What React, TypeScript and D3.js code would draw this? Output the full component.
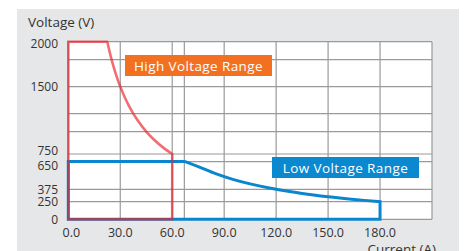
import React from 'react';
import * as d3 from 'd3';

// values
const xTicks = [0, 30, 60, 90, 120, 150, 180];
const xGrid = [0, 30, 60, 67, 90, 120, 150, 180, 210];
const yTicks = [2000, 1500, 750, 650, 375, 250, 0];
const yGrid = [0, 250, 375, 650, 750, 1000, 1200, 1500, 1800, 2000];

// high voltage range: corners + constant power curve
const highCorners: [number, number][] = [[60, 0], [0, 0], [0, 2000], [22.5, 2000]];
const highCurve: [number, number][] = [
  [22.5, 2000], [25, 1800], [27.5, 1636], [30, 1500], [35, 1286], [40, 1125],
  [45, 1000], [50, 900], [55, 818], [60, 750],
];
// low voltage range
const lowCorners: [number, number][] = [[180, 0], [0, 0], [0, 650], [67, 650]];
const lowCurve: [number, number][] = [
  [67, 650], [75, 600], [85, 530], [95, 474], [105, 429], [120, 375],
  [135, 333], [150, 300], [165, 273], [180, 250],
];

const W = 464;
const H = 251;
const font = "'Open Sans', sans-serif";

const x = d3.scaleLinear().domain([0, 210]).range([68.3, 432]);
// axis in the original is hand spaced, so piecewise
const y = d3.scaleLinear()
  .domain([0, 250, 375, 650, 750, 2000])
  .range([219.3, 201.7, 189.3, 161.6, 154, 41.7]);

const pt = (d: [number, number]) => `${x(d[0])},${y(d[1])}`;

const outline = (corners: [number, number][], curve: [number, number][]) => {
  const straight = d3.line<[number, number]>().x(d => x(d[0])).y(d => y(d[1]))(corners) || '';
  const curved = d3.line<[number, number]>()
    .x(d => x(d[0])).y(d => y(d[1]))
    .curve(d3.curveCatmullRom)(curve) || '';
  // swap the curve's moveto for a lineto so the outline stays one path
  return straight + curved.replace(/^M[^A-Za-z]*/, 'L' + pt(curve[0])) + 'Z';
};

const labelNudge = (v: number) => (v === 750 ? -3 : v === 650 ? 4 : v === 2000 ? 2 : 0);

export default function App() {
  const [x0, x1] = x.range();
  const [y0, y1] = [y(0), y(2000)];
  return (
    <svg width={W} height={H} style={{ position: 'absolute', left: 0, top: 0, fontFamily: font }}>
      <rect x={17} y={9} width={442} height={H - 9} fill="#e6e7e8" />
      <rect x={x0} y={y1} width={x1 - x0} height={y0 - y1} fill="#fff" />
      <g stroke="#9a9a9a" strokeWidth={1.2}>
        {yGrid.map(v => (
          <line key={'y' + v} x1={x0} x2={x1} y1={y(v)} y2={y(v)} />
        ))}
        {xGrid.map(v => (
          <line key={'x' + v} x1={x(v)} x2={x(v)} y1={y0} y2={y1} />
        ))}
      </g>
      <text x={28} y={27} fontSize={13.5} fill="#333">Voltage (V)</text>
      <g fontSize={12} fill="#333" textAnchor="end">
        {yTicks.map(v => (
          <text key={v} x={58} y={y(v) + labelNudge(v)} dy="0.36em">{v}</text>
        ))}
      </g>
      <g fontSize={12.5} fill="#333" textAnchor="middle">
        {xTicks.map(v => (
          <text key={v} x={x(v) + (v === 0 ? 3 : 0)} y={237}>{v.toFixed(1)}</text>
        ))}
      </g>
      <text x={436} y={254} fontSize={13.5} fill="#333" textAnchor="end">Current (A)</text>

      <path d={outline(lowCorners, lowCurve)} fill="none" stroke="#0a86ce" strokeWidth={3} />
      <path d={outline(highCorners, highCurve)} fill="none" stroke="#e8232b" strokeOpacity={0.66} strokeWidth={2.6} />

      <rect x={125} y={55} width={147} height={21} fill="#f37021" />
      <text x={198.5} y={70.5} fontSize={13.5} letterSpacing={0.4} fill="#fff" textAnchor="middle">High Voltage Range</text>
      <rect x={272} y={157} width={147} height={21} fill="#0a88d0" />
      <text x={345.5} y={172.5} fontSize={13.5} letterSpacing={0.4} fill="#fff" textAnchor="middle">Low Voltage Range</text>
    </svg>
  );
}
